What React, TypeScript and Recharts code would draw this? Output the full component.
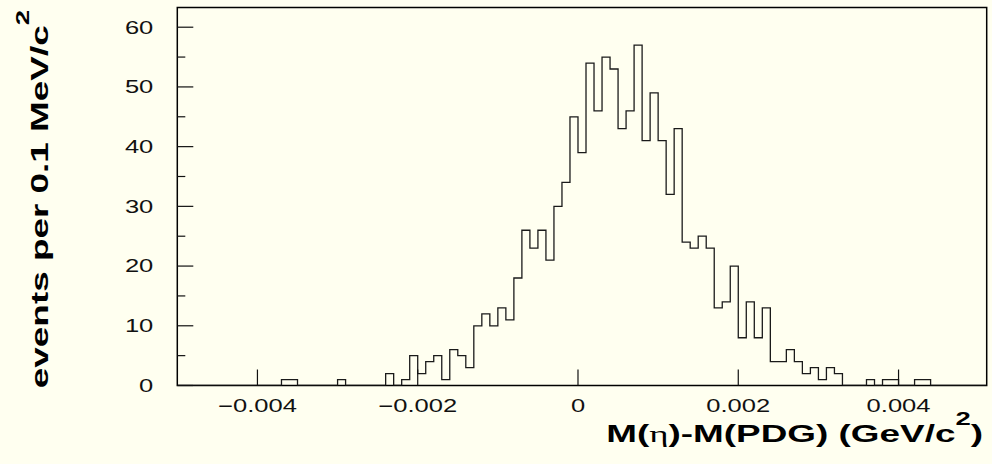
import { ComposedChart, Line, XAxis, YAxis, ReferenceArea } from "recharts";

// histogram binning: 101 bins of 0.1 MeV starting at -5 MeV
const X_MIN = -0.005;
const X_MAX = 0.0051;
const BIN_WIDTH = 0.0001;
const Y_MAX = 63.3;

// events per bin, left to right
const counts = [
  0, 0, 0, 0, 0, 0, 0, 0, 0, 0, 0, 0, 0,
  1, 1, 0, 0, 0, 0, 0, 1, 0, 0, 0, 0, 0, 2, 0, 1,
  5, 2, 4, 5, 1, 6, 5, 3, 10, 12, 10, 13, 11, 18, 26, 23, 26, 21, 30, 34, 45,
  39, 54, 46, 55, 53, 43, 46, 57, 41, 49, 41, 32, 43, 24, 23, 25, 23, 13, 14, 20,
  8, 14, 8, 13, 4, 4, 6, 4, 2, 3, 1, 3, 2, 0, 0, 0, 1, 0, 1, 1, 0, 0, 1, 1,
  0, 0, 0, 0, 0, 0, 0,
];

const xTicks = [-0.004, -0.002, 0, 0.002, 0.004];
const xTickLabels = ["\u22120.004", "\u22120.002", "0", "0.002", "0.004"];
const yTicks = [0, 5, 10, 15, 20, 25, 30, 35, 40, 45, 50, 55, 60];

const W = 992;
const H = 464;
const BG = "#fffff0";
const INK = "#111";
const LABEL_FONT = "'Liberation Sans', Arial, sans-serif";
const LABEL_SIZE = 18;
const LABEL_STRETCH = 1.42;
const TITLE_SIZE = 23.5;
const TITLE_STRETCH = 1.57;

// step outline needs one extra point at the upper edge of the last bin
const histData = counts
  .map((n, i) => ({ x: X_MIN + i * BIN_WIDTH, n }))
  .concat([{ x: X_MAX, n: counts[counts.length - 1] }]);

function XTick(props: any) {
  const { x, y, payload } = props;
  const idx = xTicks.indexOf(payload.value);
  return (
    <g>
      <line x1={x} x2={x} y1={y} y2={y - 16} stroke={INK} strokeWidth={1.2} />
      <g transform={`translate(${x},${y + 26}) scale(${LABEL_STRETCH},1)`}>
        <text textAnchor="middle" fontSize={LABEL_SIZE} fontFamily={LABEL_FONT} fill={INK}>
          {idx >= 0 ? xTickLabels[idx] : ""}
        </text>
      </g>
    </g>
  );
}

function YTick(props: any) {
  const { x, y, payload } = props;
  const major = payload.value % 10 === 0;
  return (
    <g>
      <line x1={x} x2={x + (major ? 16 : 8)} y1={y} y2={y} stroke={INK} strokeWidth={1.2} />
      {major && (
        <g transform={`translate(${x - 24},${y + 6.4}) scale(${LABEL_STRETCH},1)`}>
          <text textAnchor="end" fontSize={LABEL_SIZE} fontFamily={LABEL_FONT} fill={INK}>
            {payload.value}
          </text>
        </g>
      )}
    </g>
  );
}

function Titles() {
  const serif = "'Liberation Serif', 'DejaVu Serif', serif";
  return (
    <svg width={W} height={H} style={{ position: "absolute", left: 0, top: 0, pointerEvents: "none" }}>
      <g transform={`translate(983,442) scale(${TITLE_STRETCH},1)`}>
        <text textAnchor="end" fontSize={TITLE_SIZE} fontWeight="bold" fontFamily={LABEL_FONT} fill="#000">
          <tspan>M(</tspan>
          <tspan fontFamily={serif} fontWeight="normal">η</tspan>
          <tspan>)-M(PDG) (GeV/c</tspan>
          <tspan fontSize={17.5} dy={-17}>2</tspan>
          <tspan dy={17}>)</tspan>
        </text>
      </g>
      <g transform={`translate(48.3,10) rotate(-90) scale(${TITLE_STRETCH},1)`}>
        <text textAnchor="end" fontSize={TITLE_SIZE} fontWeight="bold" fontFamily={LABEL_FONT} fill="#000">
          <tspan>events per 0.1 MeV/c</tspan>
          <tspan fontSize={17.5} dy={-19}>2</tspan>
        </text>
      </g>
    </svg>
  );
}

export default function App() {
  return (
    <div style={{ position: "absolute", left: 0, top: 0, width: W, height: H, background: BG }}>
      <ComposedChart
        width={W}
        height={H}
        data={histData}
        margin={{ top: 7.5, right: 5.3, bottom: 0, left: 0 }}
      >
        <XAxis
          dataKey="x"
          type="number"
          domain={[X_MIN, X_MAX]}
          allowDataOverflow
          ticks={xTicks}
          tick={<XTick />}
          tickSize={0}
          tickMargin={0}
          axisLine={false}
          tickLine={false}
          height={78.5}
          interval={0}
        />
        <YAxis
          type="number"
          domain={[0, Y_MAX]}
          allowDataOverflow
          ticks={yTicks}
          tick={<YTick />}
          tickSize={0}
          tickMargin={0}
          axisLine={false}
          tickLine={false}
          width={177.3}
          interval={0}
        />
        <Line
          type="stepAfter"
          dataKey="n"
          stroke="#1a1a1a"
          strokeWidth={1.3}
          dot={false}
          activeDot={false}
          isAnimationActive={false}
        />
        <ReferenceArea
          x1={X_MIN}
          x2={X_MAX}
          y1={0}
          y2={Y_MAX}
          fill="none"
          fillOpacity={0}
          stroke="#000"
          strokeWidth={1.5}
          ifOverflow="visible"
        />
      </ComposedChart>
      <Titles />
    </div>
  );
}
